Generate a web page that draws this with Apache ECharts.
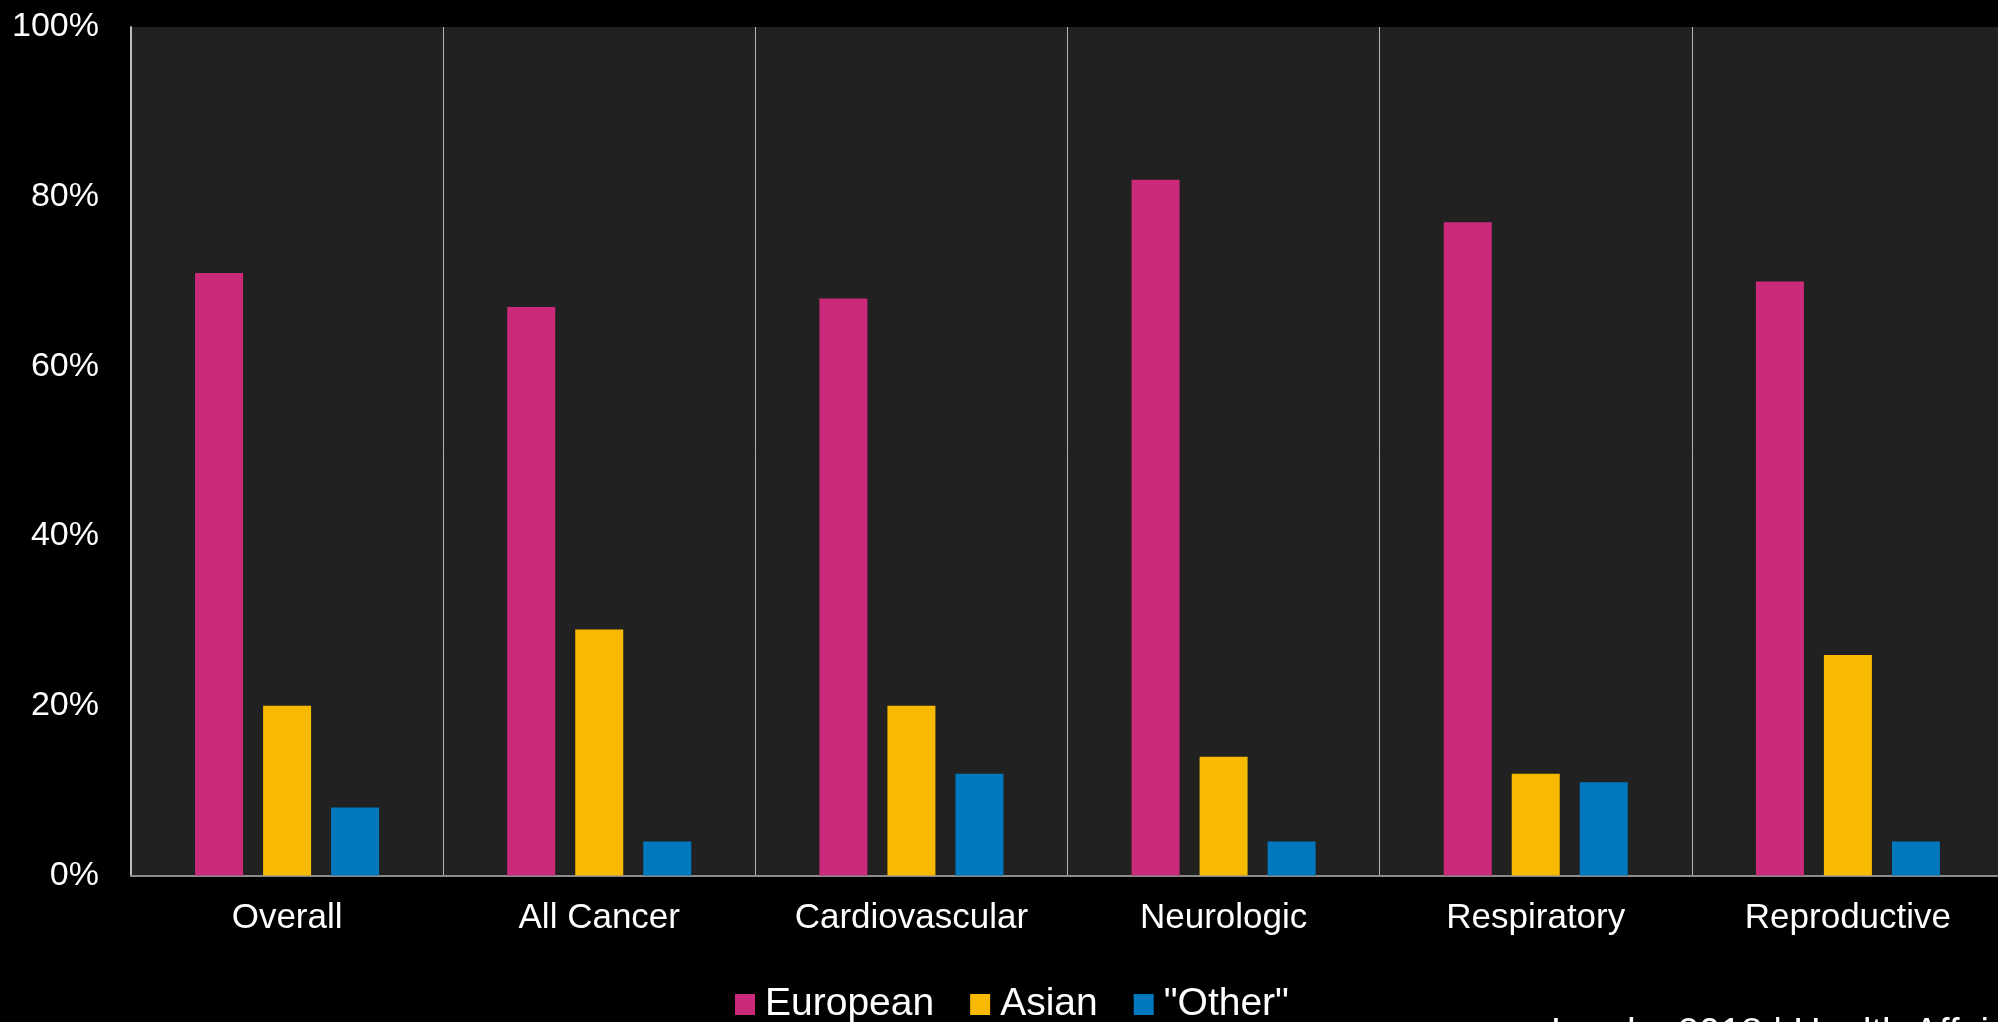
<!DOCTYPE html>
<html>
<head>
<meta charset="utf-8">
<script src="https://cdn.jsdelivr.net/npm/echarts@6/dist/echarts.min.js"></script>
<style>
html,body{margin:0;padding:0;background:#000;}
#chart{width:1998px;height:1022px;}
</style>
</head>
<body>
<div id="chart"></div>
<script>
const categories = ['Overall', 'All Cancer', 'Cardiovascular', 'Neurologic', 'Respiratory', 'Reproductive'];
const seriesNames = ['European', 'Asian', '"Other"'];
const european = [71, 67, 68, 82, 77, 70];
const asian = [20, 29, 20, 14, 12, 26];
const other = [8, 4, 12, 4, 11, 4];
const yTicks = [0, 20, 40, 60, 80, 100];
const sourceText = 'Landry 2018 | Health Affairs';

const FONT = '"Liberation Sans", Arial, sans-serif';
const colors = ['#CB2A7B', '#F7BA00', '#0078BE'];

const chart = echarts.init(document.getElementById('chart'), null, {renderer: 'canvas'});
const seriesData = [european, asian, other];

chart.setOption({
  backgroundColor: '#000000',
  animation: false,
  color: colors,
  grid: {
    left: 131, top: 27, width: 1873, height: 848.5,
    show: true, backgroundColor: '#212121', borderWidth: 0,
    containLabel: false,
    outerBoundsMode: 'none'
  },
  legend: {
    data: seriesNames,
    left: 730, top: 980,
    icon: 'rect',
    itemWidth: 20, itemHeight: 21, itemGap: 36,
    textStyle: {color: '#ffffff', fontSize: 39, fontFamily: FONT, padding: [0, 0, 0, 5]}
  },
  xAxis: {
    type: 'category',
    data: categories,
    axisLine: {show: true, lineStyle: {color: '#8a8a8a', width: 2}},
    axisTick: {show: false},
    splitLine: {show: true, lineStyle: {color: '#b4b4b4', width: 1}},
    axisLabel: {color: '#ffffff', fontSize: 35, fontFamily: FONT, margin: 25}
  },
  yAxis: {
    type: 'value',
    min: yTicks[0], max: yTicks[yTicks.length - 1], interval: yTicks[1] - yTicks[0],
    axisLine: {show: true, lineStyle: {color: '#bdbdbd', width: 2}},
    axisTick: {show: false},
    splitLine: {show: false},
    axisLabel: {color: '#ffffff', fontSize: 34, fontFamily: FONT, margin: 32, formatter: '{value}%'}
  },
  series: seriesNames.map((n, i) => ({
    name: n,
    type: 'bar',
    data: seriesData[i],
    barWidth: 48,
    barGap: '41.7%',
    itemStyle: {color: colors[i]}
  })),
  graphic: [{
    type: 'text',
    left: 1551, top: 1016,
    style: {text: sourceText, fill: '#ffffff', font: '38px ' + FONT}
  }]
});
</script>
</body>
</html>
